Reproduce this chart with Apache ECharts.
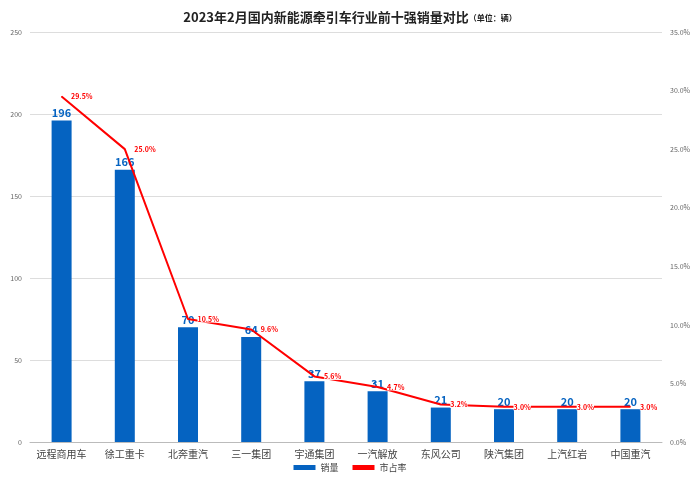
<!DOCTYPE html>
<html>
<head>
<meta charset="utf-8">
<script src="https://cdn.jsdelivr.net/npm/echarts@6/dist/echarts.min.js"></script>
<style>
  html, body { margin: 0; padding: 0; background: #fff; }
  #main { width: 700px; height: 485px; }
</style>
</head>
<body>
<div id="main"></div>
<script>
var categories = ['远程商用车', '徐工重卡', '北奔重汽', '三一集团', '宇通集团', '一汽解放', '东风公司', '陕汽集团', '上汽红岩', '中国重汽'];
var sales = [196, 166, 70, 64, 37, 31, 21, 20, 20, 20];
var share = [29.5, 25.0, 10.5, 9.6, 5.6, 4.7, 3.2, 3.0, 3.0, 3.0];

var chart = echarts.init(document.getElementById('main'));
var font = '"Noto Sans CJK SC", sans-serif';
chart.setOption({
    animation: false,
    textStyle: { fontFamily: font },
    title: {
        text: '{m|2023年2月国内新能源牵引车行业前十强销量对比}{u|（单位：辆）}',
        left: 'center', top: 6,
        textStyle: {
            rich: {
                m: { fontSize: 13, fontWeight: 'bold', color: '#222', fontFamily: font },
                u: { fontSize: 8, fontWeight: 'bold', color: '#222', fontFamily: font }
            }
        }
    },
    legend: {
        bottom: 8, left: 'center', itemWidth: 22, itemHeight: 5, itemGap: 14,
        textStyle: { fontSize: 9, color: '#444' },
        data: [{ name: '销量', icon: 'rect' }, { name: '市占率', icon: 'rect' }]
    },
    grid: { left: 30, right: 38, top: 32, bottom: 43 },
    xAxis: {
        type: 'category', data: categories,
        axisLine: { lineStyle: { color: '#bbb' } },
        axisTick: { show: false },
        axisLabel: { fontSize: 10, color: '#444', margin: 7, interval: 0 }
    },
    yAxis: [{
        type: 'value', min: 0, max: 250, interval: 50,
        axisLabel: { fontSize: 7, color: '#666' },
        splitLine: { lineStyle: { color: '#ddd' } },
        axisLine: { show: false }
    }, {
        type: 'value', min: 0, max: 35, interval: 5,
        axisLabel: { fontSize: 7, color: '#666', formatter: function (v) { return v.toFixed(1) + '%'; } },
        splitLine: { show: false },
        axisLine: { show: false }
    }],
    series: [{
        name: '销量', type: 'bar', data: sales, barWidth: 20,
        itemStyle: { color: '#0563c1' },
        label: { show: true, position: 'top', distance: 2, color: '#0563c1', fontWeight: 'bold', fontSize: 11 },
        z: 2
    }, {
        name: '市占率', type: 'line', yAxisIndex: 1, data: share,
        symbol: 'circle', symbolSize: 1, showSymbol: true,
        lineStyle: { color: '#ff0000', width: 2 }, itemStyle: { color: '#ff0000' },
        labelLayout: { hideOverlap: false },
        label: {
            show: true, position: 'right', distance: 9, color: '#ff0000', fontSize: 7, fontWeight: 'bold',
            backgroundColor: '#fff',
            formatter: function (p) { return p.value.toFixed(1) + '%'; }
        },
        z: 3
    }]
});
</script>
</body>
</html>
